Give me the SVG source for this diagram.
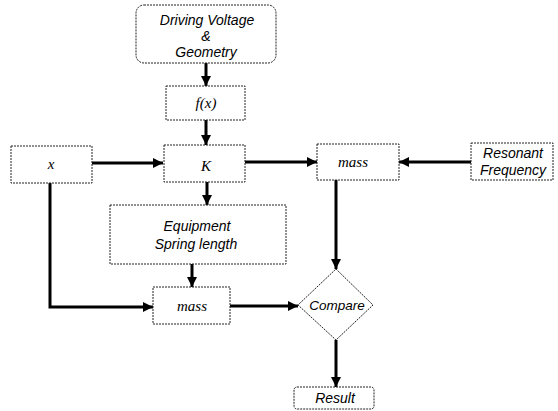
<svg xmlns="http://www.w3.org/2000/svg" width="558" height="411" viewBox="0 0 558 411">
<style>
.box{fill:#fff;stroke:#222;stroke-width:1;stroke-dasharray:2 1}
.sans{font-family:"Liberation Sans",Arial,sans-serif;font-style:italic;font-size:14px;fill:#000;text-anchor:middle}
.serif{font-family:"Liberation Serif","Times New Roman",serif;font-style:italic;font-size:15px;fill:#000;text-anchor:middle}
.conn{fill:none;stroke:#000;stroke-width:3;marker-end:url(#ah)}
</style>
<defs>
<marker id="ah" markerUnits="userSpaceOnUse" markerWidth="11" markerHeight="10" refX="10" refY="5" orient="auto">
<path d="M0,0 L10,5 L0,10 z" fill="#000"/>
</marker>
</defs>
<rect width="558" height="411" fill="#fff"/>
<g id="connectors">
<line class="conn" x1="206" y1="63" x2="206" y2="86"/>
<line class="conn" x1="206" y1="120" x2="206" y2="145"/>
<line class="conn" x1="92" y1="163" x2="163" y2="163"/>
<line class="conn" x1="245" y1="162" x2="317" y2="162"/>
<line class="conn" x1="471" y1="162" x2="399" y2="162"/>
<line class="conn" x1="207" y1="182" x2="207" y2="205"/>
<line class="conn" x1="192" y1="264" x2="192" y2="287"/>
<polyline class="conn" points="50,183 50,307 153,307"/>
<line class="conn" x1="230" y1="306" x2="298" y2="306"/>
<line class="conn" x1="336" y1="180" x2="336" y2="269"/>
<line class="conn" x1="336" y1="340" x2="336" y2="387"/>
</g>
<g id="driving">
<rect class="box" x="136" y="5" width="140" height="58" rx="8"/>
<text class="sans" x="207" y="25">Driving Voltage</text>
<text class="sans" x="206" y="41">&amp;</text>
<text class="sans" x="206" y="57">Geometry</text>
</g>
<g id="fx">
<rect class="box" x="166" y="86" width="79" height="34"/>
<text class="serif" x="206" y="108">f(x)</text>
</g>
<g id="x">
<rect class="box" x="11" y="146" width="81" height="37"/>
<text class="serif" x="51" y="169">x</text>
</g>
<g id="K">
<rect class="box" x="164" y="145" width="81" height="37"/>
<text class="serif" x="206" y="171">K</text>
</g>
<g id="mass-upper">
<rect class="box" x="317" y="144" width="82" height="36"/>
<text class="serif" x="353" y="167">mass</text>
</g>
<g id="resonant">
<rect class="box" x="471" y="143" width="82" height="37"/>
<text class="sans" x="513" y="158">Resonant</text>
<text class="sans" x="513" y="175">Frequency</text>
</g>
<g id="equipment">
<rect class="box" x="110" y="205" width="176" height="59"/>
<text class="sans" x="197" y="231">Equipment</text>
<text class="sans" x="196" y="249">Spring length</text>
</g>
<g id="mass-lower">
<rect class="box" x="153" y="287" width="77" height="37"/>
<text class="serif" x="192" y="311">mass</text>
</g>
<g id="compare">
<polygon class="box" points="336,269 373,305 336,340 298,305"/>
<text class="sans" x="337" y="310" style="font-size:13.5px">Compare</text>
</g>
<g id="result">
<rect class="box" x="294" y="387" width="80" height="22" rx="3"/>
<text class="sans" x="335" y="403">Result</text>
</g>
</svg>
